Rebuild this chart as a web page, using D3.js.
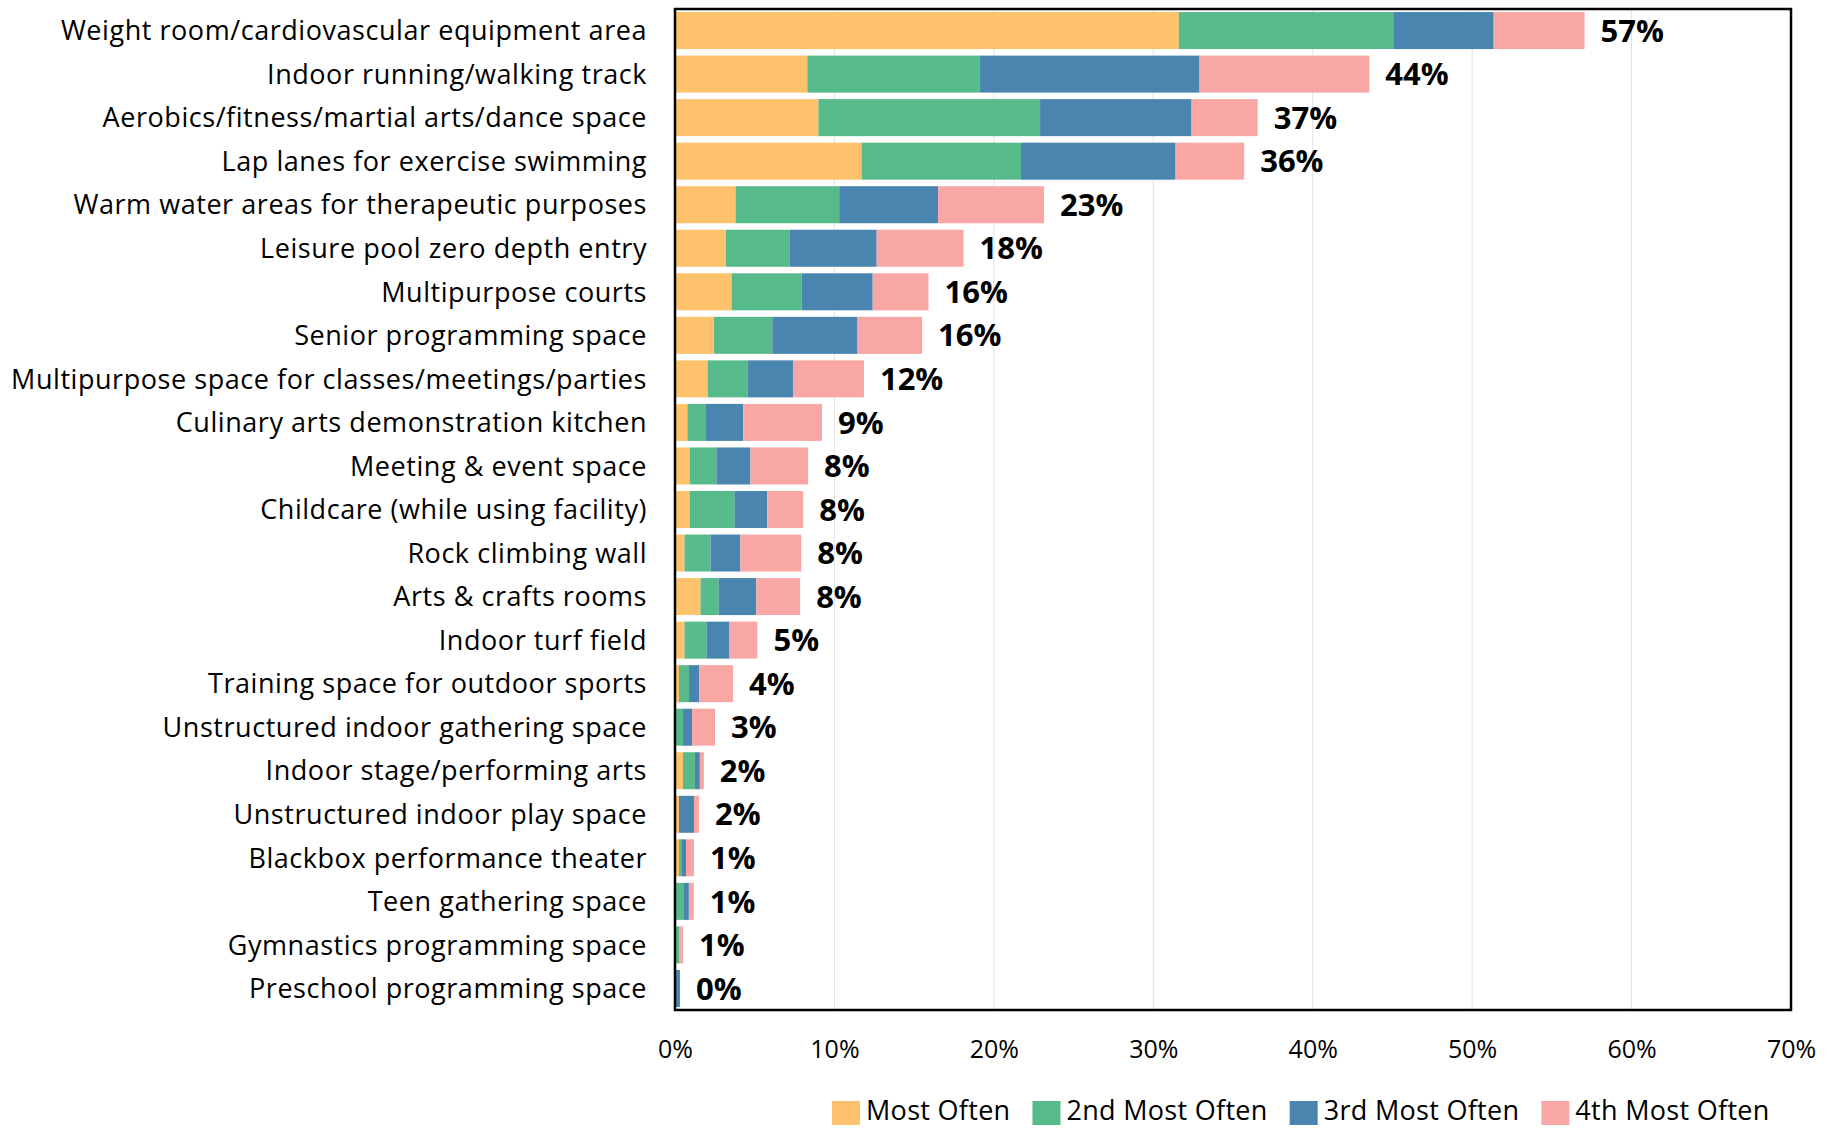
<!DOCTYPE html>
<meta charset="utf-8">
<style>
body { margin: 0; background: #fff; }
text { font-family: "Open Sans", sans-serif; fill: #000; }
.cat { font-size: 27px; letter-spacing: 0.55px; }
.tick text { font-size: 25px; }
.total { font-size: 31px; font-weight: bold; }
.legend text { font-size: 27px; letter-spacing: 0.3px; }
</style>
<body>
<script src="https://d3js.org/d3.v7.min.js"></script>
<script>
// categories, top to bottom
const categories = [
  "Weight room/cardiovascular equipment area",
  "Indoor running/walking track",
  "Aerobics/fitness/martial arts/dance space",
  "Lap lanes for exercise swimming",
  "Warm water areas for therapeutic purposes",
  "Leisure pool zero depth entry",
  "Multipurpose courts",
  "Senior programming space",
  "Multipurpose space for classes/meetings/parties",
  "Culinary arts demonstration kitchen",
  "Meeting & event space",
  "Childcare (while using facility)",
  "Rock climbing wall",
  "Arts & crafts rooms",
  "Indoor turf field",
  "Training space for outdoor sports",
  "Unstructured indoor gathering space",
  "Indoor stage/performing arts",
  "Unstructured indoor play space",
  "Blackbox performance theater",
  "Teen gathering space",
  "Gymnastics programming space",
  "Preschool programming space"
];

// series values, in percent
const mostOften   = [31.6, 8.3, 9.0, 11.7, 3.8, 3.2, 3.55, 2.45, 2.05, 0.78, 0.92, 0.92, 0.6, 1.6, 0.6, 0.25, 0, 0.5, 0.25, 0.25, 0, 0, 0];
const secondOften = [13.45, 10.8, 13.9, 10.0, 6.5, 4.0, 4.4, 3.65, 2.5, 1.12, 1.68, 2.81, 1.63, 1.13, 1.38, 0.63, 0.5, 0.75, 0, 0.19, 0.56, 0.25, 0];
const thirdOften  = [6.3, 13.8, 9.5, 9.7, 6.2, 5.45, 4.45, 5.35, 2.85, 2.38, 2.13, 2.06, 1.87, 2.37, 1.44, 0.63, 0.57, 0.31, 0.94, 0.25, 0.31, 0, 0.31];
const fourthOften = [5.7, 10.65, 4.15, 4.3, 6.65, 5.45, 3.5, 4.05, 4.45, 4.94, 3.62, 2.25, 3.82, 2.75, 1.75, 2.13, 1.44, 0.25, 0.31, 0.5, 0.31, 0.25, 0];

const totalLabels = ["57%", "44%", "37%", "36%", "23%", "18%", "16%", "16%", "12%", "9%", "8%", "8%", "8%", "8%", "5%", "4%", "3%", "2%", "2%", "1%", "1%", "1%", "0%"];

const seriesNames = ["Most Often", "2nd Most Often", "3rd Most Often", "4th Most Often"];
const seriesKeys = ["s1", "s2", "s3", "s4"];
const colors = ["#FEC26C", "#57BA8B", "#4A85B0", "#F9A7A4"];
const xTicks = [0, 10, 20, 30, 40, 50, 60, 70];

const W = 1837, H = 1128;
const plot = {left: 675, right: 1791, top: 9, bottom: 1010};

const rows = categories.map((c, i) => ({
  cat: c, s1: mostOften[i], s2: secondOften[i], s3: thirdOften[i], s4: fourthOften[i], label: totalLabels[i]
}));

const svg = d3.select("body").append("svg")
    .attr("width", W)
    .attr("height", H);

const x = d3.scaleLinear().domain([0, 70]).range([plot.left, plot.right]);
const y = d3.scaleBand().domain(categories).range([plot.top, plot.bottom])
    .paddingInner(0.15).paddingOuter(0.07);

// gridlines
svg.append("g").selectAll("line")
    .data(xTicks.slice(1, -1))
  .enter().append("line")
    .attr("x1", d => x(d)).attr("x2", d => x(d))
    .attr("y1", plot.top).attr("y2", plot.bottom)
    .attr("stroke", "#e2e2e2").attr("stroke-width", 1);

// stacked bars
const stack = d3.stack().keys(seriesKeys)(rows);
svg.append("g").selectAll("g")
    .data(stack)
  .enter().append("g")
    .attr("fill", (d, i) => colors[i])
  .selectAll("rect")
    .data(d => d)
  .enter().append("rect")
    .attr("x", d => x(d[0]))
    .attr("width", d => x(d[1]) - x(d[0]))
    .attr("y", d => y(d.data.cat))
    .attr("height", y.bandwidth());

// total labels
svg.append("g").selectAll("text")
    .data(rows)
  .enter().append("text")
    .attr("class", "total")
    .attr("x", d => x(d.s1 + d.s2 + d.s3 + d.s4) + 16)
    .attr("y", d => y(d.cat) + y.bandwidth() / 2)
    .attr("dy", "0.36em")
    .text(d => d.label);

// category labels
svg.append("g").selectAll("text")
    .data(categories)
  .enter().append("text")
    .attr("class", "cat")
    .attr("x", plot.left - 28)
    .attr("y", d => y(d) + y.bandwidth() / 2)
    .attr("dy", "0.36em")
    .attr("text-anchor", "end")
    .text(d => d);

// frame
svg.append("rect")
    .attr("x", plot.left).attr("y", plot.top)
    .attr("width", plot.right - plot.left).attr("height", plot.bottom - plot.top)
    .attr("fill", "none").attr("stroke", "#000").attr("stroke-width", 2.5);

// x axis
const xAxis = svg.append("g")
    .attr("transform", "translate(0," + plot.bottom + ")")
    .call(d3.axisBottom(x).tickValues(xTicks).tickSize(0).tickPadding(30).tickFormat(d => d + "%"));
xAxis.select(".domain").remove();
xAxis.selectAll("text").attr("fill", "#000").style("font-family", '"Open Sans", sans-serif');

// legend
const legend = svg.append("g").attr("class", "legend");
let lx = 832;
seriesNames.forEach((name, i) => {
  legend.append("rect")
      .attr("x", lx).attr("y", 1101)
      .attr("width", 28).attr("height", 24)
      .attr("fill", colors[i]);
  const t = legend.append("text")
      .attr("x", lx + 34).attr("y", 1120)
      .text(name);
  lx += 34 + t.node().getComputedTextLength() + 22;
});
</script>
</body>
